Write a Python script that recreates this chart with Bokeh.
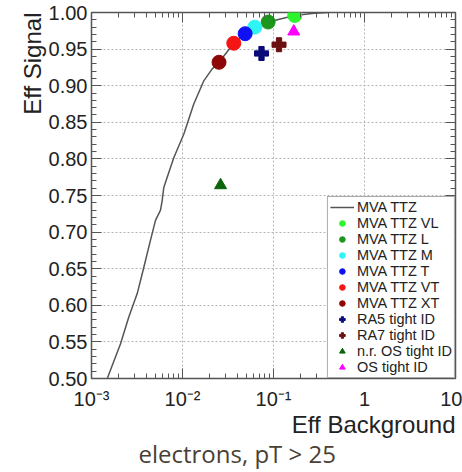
from bokeh.plotting import figure
from bokeh.models import (Range1d, FixedTicker, SingleIntervalTicker, PrintfTickFormatter,
                          LinearAxis, LogAxis, CustomJSTickFormatter, Title, Legend)
from bokeh.embed import file_html
from bokeh.resources import INLINE

# ROC curve (MVA TTZ)
curve_bkg = [0.00149, 0.00208, 0.00257, 0.0028, 0.00318, 0.00376, 0.00445, 0.00505, 0.00573,
             0.00598, 0.00623, 0.00679, 0.00804, 0.01035, 0.0133, 0.0172, 0.0212, 0.0252,
             0.0366, 0.0488, 0.0623, 0.0873, 0.171, 0.279, 0.40]
curve_sig = [0.500, 0.547, 0.584, 0.597, 0.616, 0.652, 0.689, 0.716, 0.730,
             0.743, 0.761, 0.775, 0.802, 0.834, 0.875, 0.907, 0.923, 0.932,
             0.958, 0.971, 0.980, 0.987, 0.996, 0.999, 1.000]

# working points
wp_names = ["MVA TTZ VL", "MVA TTZ L", "MVA TTZ M", "MVA TTZ T", "MVA TTZ VT", "MVA TTZ XT",
            "RA5 tight ID", "RA7 tight ID", "n.r. OS tight ID", "OS tight ID"]
wp_bkg = [0.171, 0.0873, 0.0623, 0.0488, 0.0366, 0.0252, 0.0738, 0.115, 0.0262, 0.167]
wp_sig = [0.996, 0.987, 0.980, 0.971, 0.958, 0.932, 0.944, 0.956, 0.764, 0.974]
wp_marker = ["circle"] * 6 + ["plus", "plus", "triangle", "triangle"]
wp_color = ["#2cf52c", "#1c961c", "#2ef5f5", "#1010f5", "#f51515", "#8e0606",
            "#0a0a78", "#6a1010", "#0b650b", "#ff00ff"]
wp_size = [14, 14, 14, 14, 14, 14, 14, 14, 12, 12]

x_major = [1e-3, 1e-2, 1e-1, 1.0, 10.0]
x_labels = {1e-3: "10\u207b\u00b3", 1e-2: "10\u207b\u00b2", 1e-1: "10\u207b\u00b9", 1.0: "1", 10.0: "10"}
x_minor = [m * d for d in [1e-3, 1e-2, 1e-1, 1.0] for m in range(2, 10)]

x_title = "Eff Background"
y_title = "Eff Signal"
caption = "electrons, pT > 25"

p = figure(width=462, height=472, x_axis_type="log",
           x_range=Range1d(1e-3, 10), y_range=Range1d(0.5, 1.0),
           output_backend="svg", toolbar_location=None,
           min_border_left=91, min_border_right=7, min_border_top=12, min_border_bottom=94)
p.background_fill_color = "white"
p.border_fill_color = "white"
p.outline_line_color = "#555555"
p.outline_line_width = 1.5

FONT = "Liberation Sans"
TXT = "#222222"

def style_axis(ax):
    ax.axis_line_color = "#555555"
    ax.major_tick_line_color = "#555555"
    ax.minor_tick_line_color = "#555555"
    ax.major_tick_in = 10
    ax.major_tick_out = 0
    ax.minor_tick_in = 5
    ax.minor_tick_out = 0
    ax.major_label_text_font = FONT
    ax.major_label_text_color = TXT
    ax.major_label_text_font_size = "20px"

xt = FixedTicker(ticks=x_major, minor_ticks=x_minor)
yt = SingleIntervalTicker(interval=0.05, num_minor_ticks=5)

xa = p.xaxis[0]
xa.ticker = xt
xa.major_label_overrides = x_labels
xa.major_label_standoff = 9
style_axis(xa)

ya = p.yaxis[0]
ya.ticker = yt
ya.formatter = PrintfTickFormatter(format="%.2f")
ya.major_label_standoff = 4
style_axis(ya)

blank = CustomJSTickFormatter(code="return ''")
top = LogAxis(ticker=xt, formatter=blank)
right = LinearAxis(ticker=yt, formatter=blank)
for ax in (top, right):
    style_axis(ax)
    ax.major_label_text_font_size = "0px"
    ax.major_label_standoff = 0
    ax.axis_line_color = None
p.add_layout(top, "above")
p.add_layout(right, "right")

p.xgrid.ticker = xt
p.ygrid.ticker = yt
for g in (p.xgrid[0], p.ygrid[0]):
    g.grid_line_color = "#b5b5b5"
    g.grid_line_dash = "2 2"
    g.grid_line_width = 1

items = []
ln = p.line(curve_bkg, curve_sig, line_color="#555555", line_width=1.5)
items.append(("MVA TTZ", [ln]))
for name, bx, sy, mk, col, sz in zip(wp_names, wp_bkg, wp_sig, wp_marker, wp_color, wp_size):
    r = p.scatter([bx], [sy], marker=mk, size=sz, fill_color=col, line_color=col)
    items.append((name, [r]))

leg = Legend(items=items, location="bottom_right")
leg.margin = 0
leg.padding = 2
leg.spacing = 0
leg.label_height = 14
leg.glyph_height = 14
leg.glyph_width = 24
leg.label_standoff = 3
leg.label_text_font = FONT
leg.label_text_font_size = "14.5px"
leg.label_text_line_height = 1.0
leg.label_text_color = TXT
leg.border_line_color = "#555555"
leg.border_line_width = 1.5
leg.background_fill_alpha = 1
p.add_layout(leg)

xtitle = Title(text=x_title, align="right", offset=0,
               text_font=FONT, text_font_size="24px", text_font_style="normal",
               text_color=TXT, standoff=-8)
p.add_layout(xtitle, "below")

ytitle = Title(text=y_title, align="right", offset=0,
               text_font=FONT, text_font_size="24px", text_font_style="normal",
               text_color=TXT, standoff=0)
p.add_layout(ytitle, "left")

cap = Title(text=caption, align="left", offset=47,
            text_font="Open Sans", text_font_size="24px", text_font_style="normal",
            text_color="#4a3f35", standoff=2)
p.add_layout(cap, "below")

open("out.html", "w").write(file_html(p, INLINE))
